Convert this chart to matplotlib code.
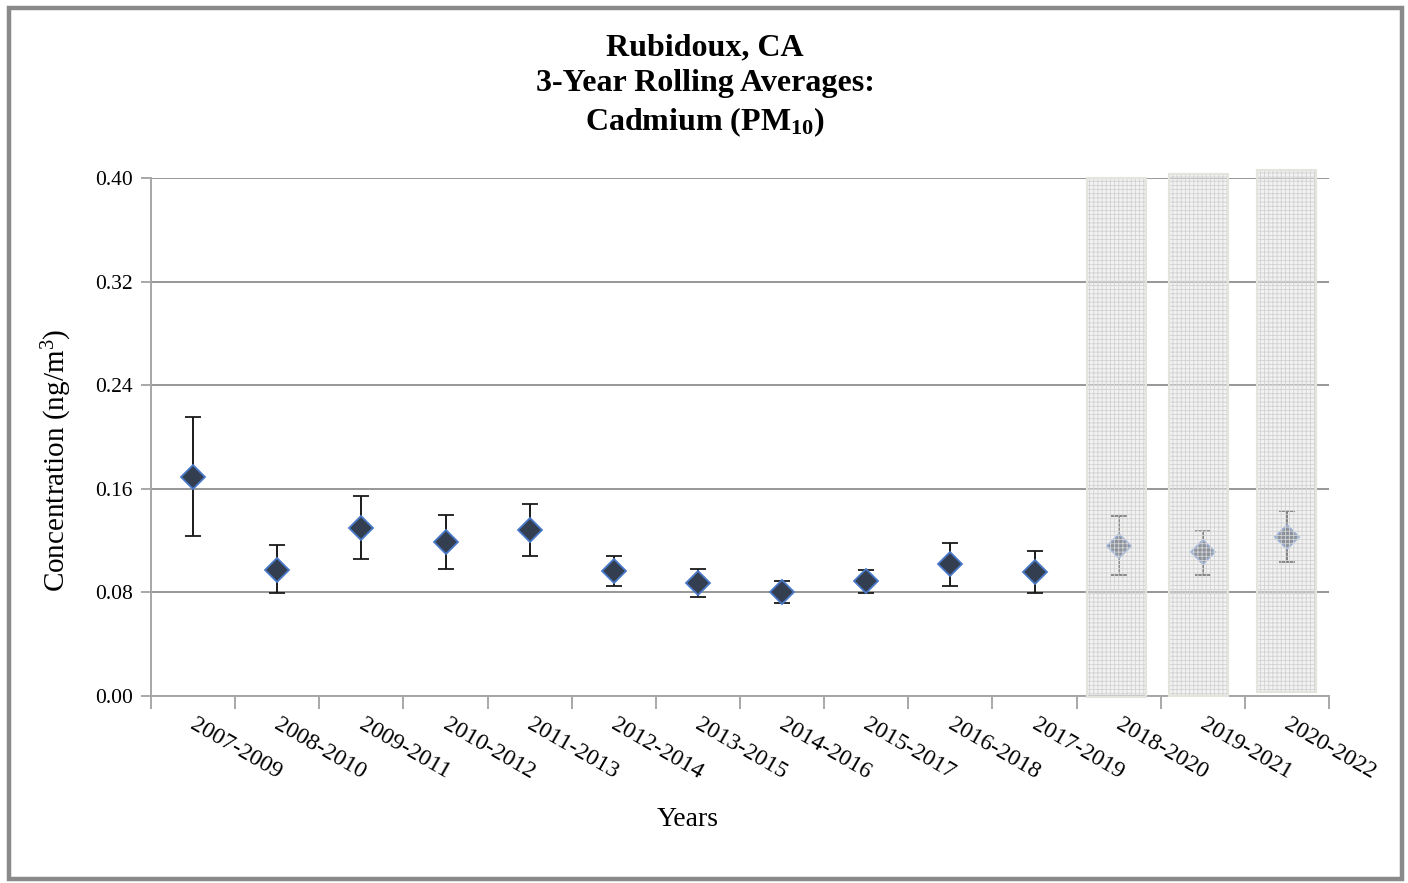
import matplotlib
matplotlib.use("Agg")
import matplotlib.pyplot as plt
from matplotlib.patches import Rectangle
import numpy as np

# Three-year periods
periods = ["2007-2009", "2008-2010", "2009-2011", "2010-2012", "2011-2013",
           "2012-2014", "2013-2015", "2014-2016", "2015-2017", "2016-2018",
           "2017-2019", "2018-2020", "2019-2021", "2020-2022"]

# Rolling average concentration (ng/m3) with upper / lower confidence bounds
averages = [0.169, 0.0974, 0.130, 0.1192, 0.1281, 0.0964, 0.0871, 0.0801,
            0.0886, 0.1018, 0.0958, 0.1159, 0.1111, 0.1229]
upper = [0.2156, 0.1165, 0.1543, 0.1401, 0.1484, 0.1080, 0.0979, 0.0886,
         0.0976, 0.1185, 0.1123, 0.1391, 0.1277, 0.1430]
lower = [0.1236, 0.0793, 0.1061, 0.0984, 0.1082, 0.0852, 0.0765, 0.0716,
         0.0798, 0.0850, 0.0798, 0.0935, 0.0935, 0.1036]

# Periods that are highlighted with a shaded box
highlighted = ["2018-2020", "2019-2021", "2020-2022"]

y_ticks = [0.00, 0.08, 0.16, 0.24, 0.32, 0.40]

plt.rcParams["font.family"] = ["Liberation Serif", "DejaVu Serif"]
plt.rcParams["mathtext.fontset"] = "custom"
plt.rcParams["mathtext.rm"] = "Liberation Serif"
plt.rcParams["mathtext.it"] = "Liberation Serif:italic"
plt.rcParams["mathtext.bf"] = "Liberation Serif:bold"
plt.rcParams["hatch.linewidth"] = 0.6

fig = plt.figure(figsize=(14.08, 8.83), dpi=100)
ax = fig.add_axes([151 / 1408, 1 - 696 / 883, 1178 / 1408, 518 / 883])

x = np.arange(len(periods))
avg = np.array(averages)
yerr = np.vstack([avg - np.array(lower), np.array(upper) - avg])

ax.errorbar(x, avg, yerr=yerr, fmt="D", markersize=12,
            markerfacecolor="#333f50", markeredgecolor="#4a78c8",
            markeredgewidth=1.3, ecolor="#1a1a1a", elinewidth=1.4,
            capsize=5.5, capthick=1.4, zorder=4)

# Shaded overlay boxes on the highlighted periods
box_half = 0.35
box_shift = [-0.03, -0.05, -0.01]
box_bottom = [-0.001, 0.0, 0.003]
box_top = [0.400, 0.403, 0.406]
for k, name in enumerate(highlighted):
    c = periods.index(name) + box_shift[k]
    rect = Rectangle((c - box_half, box_bottom[k]), 2 * box_half,
                     box_top[k] - box_bottom[k],
                     facecolor=(0.90, 0.90, 0.90, 0.5),
                     edgecolor="#d2d2d2", hatch="++++", linewidth=0,
                     zorder=5, clip_on=False)
    ax.add_patch(rect)
    border = Rectangle((c - box_half, box_bottom[k]), 2 * box_half,
                       box_top[k] - box_bottom[k], facecolor="none",
                       edgecolor="#e4e4dc", linewidth=1.5, zorder=6,
                       clip_on=False)
    ax.add_patch(border)

ax.set_xlim(-0.5, len(periods) - 0.5)
ax.set_ylim(0, 0.40)

ax.set_yticks(y_ticks)
ax.set_yticklabels([f"{v:.2f}" for v in y_ticks], fontsize=15.5)
ax.yaxis.grid(True, color="#7a7a7a", linewidth=1.1, zorder=0)
ax.set_axisbelow(True)

# Category boundary ticks on x axis
ax.set_xticks(np.arange(len(periods) + 1) - 0.5)
ax.set_xticklabels([])
ax.tick_params(axis="x", direction="out", length=9, width=1.2, color="#9a9a9a")
ax.tick_params(axis="y", direction="out", length=7, width=1.2, color="#9a9a9a",
               pad=6)

for side in ["top", "right"]:
    ax.spines[side].set_visible(False)
for side in ["left", "bottom"]:
    ax.spines[side].set_color("#a6a6a6")
    ax.spines[side].set_linewidth(1.4)

for i, name in enumerate(periods):
    ax.annotate(name, xy=(i, 0), xycoords=("data", "axes fraction"),
                xytext=(3, -13), textcoords="offset points",
                rotation=-30, rotation_mode="anchor", ha="left", va="top",
                fontsize=17)

fig.text(57 / 1408, 1 - 460 / 883, "Concentration (ng/m$^3$)", fontsize=21,
         rotation=90, ha="center", va="center")
fig.text(688 / 1408, 1 - 820 / 883, "Years", fontsize=20,
         ha="center", va="center")

fig.text(705 / 1408, 1 - 86 / 883,
         "Rubidoux, CA\n3-Year Rolling Averages:\nCadmium (PM$_{\\mathbf{10}}$)",
         fontsize=23, fontweight="bold", ha="center", va="center",
         linespacing=1.3)

# Outer frame
fig.add_artist(Rectangle((9 / 1408, 4 / 883), 1393 / 1408, 871 / 883,
                         transform=fig.transFigure, facecolor="none",
                         edgecolor="#8a8a8a", linewidth=3.2))

fig.savefig("out.png", dpi=100)
